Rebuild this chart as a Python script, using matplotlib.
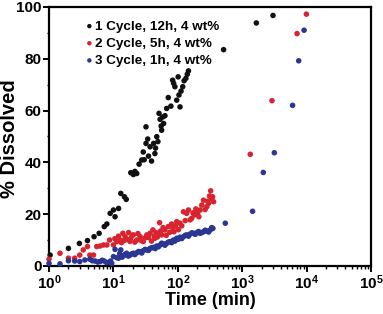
import numpy as np
import matplotlib
matplotlib.use("Agg")
import matplotlib.pyplot as plt
from matplotlib.ticker import FixedLocator, LogLocator, MultipleLocator, NullFormatter

plt.rcParams['font.family'] = ['Liberation Sans', 'DejaVu Sans']
plt.rcParams['font.weight'] = 'bold'
plt.rcParams['mathtext.fontset'] = 'custom'
plt.rcParams['mathtext.bf'] = 'Liberation Sans:bold'
plt.rcParams['mathtext.rm'] = 'Liberation Sans:bold'

# 1 cycle, 12h
t1 = [1.04, 2.0, 2.96, 3.95, 5.0, 6.0, 7.2, 7.9, 8.9, 10, 10.6, 12, 13, 14.8, 15.8,
      18.6, 20.4, 21.5, 23, 25, 27.5, 29, 30, 32, 32, 34, 35, 37, 39, 42, 44, 45, 47, 49,
      51, 53, 55, 56, 58, 60, 63, 67, 71, 78, 83, 86, 90, 96, 101, 104, 108, 112, 119,
      125, 133, 140, 146, 513, 1652, 2998]
y1 = [4.2, 6.8, 8.7, 9.8, 11.3, 12.6, 15.2, 16.2, 20.3, 21.6, 19.0, 22.2, 28, 26.7, 25.7,
      36, 35.3, 36.5, 35.7, 39.3, 40.9, 44, 41, 47.3, 53.7, 49, 42.4, 46, 40.5, 47.3, 43.4, 45.5,
      49.9, 48, 58.9, 56.6, 54, 52.4, 57.5, 55, 58, 60.8, 65, 61.7, 71.7, 70.5, 69.2, 64, 73,
      66, 61.4, 67.5, 69.2, 71.5, 72.4, 74, 75.3, 83.5, 93.8, 96.7]

# 2 cycle, 5h
t2 = [1, 1.48, 2, 2.5, 3.0, 3.4, 3.95, 4.3, 4.9, 5.5, 6.2, 7.0, 7.9, 8.7, 10, 10.5, 11.3,
      12, 12.7, 13.3, 14, 14.6, 15.2, 16, 17.2, 18, 18.6, 19.5, 20.4, 21.5, 23, 24, 26, 27,
      29, 31, 33, 35, 37, 39, 41, 43, 44, 46, 48, 50, 52, 54, 56, 59, 63, 66, 71, 75, 80,
      84, 87, 92, 96, 102, 108, 115, 122, 130, 137, 146, 155, 164, 172, 181, 190, 202,
      212, 222, 235, 250, 265, 282, 290, 300, 310, 323, 335, 346, 358,
      1331, 2891, 7080, 9880]
y2 = [2.6, 4.9, 3, 3, 4.2, 6.2, 7.5, 4.2, 4.2, 7.5, 7.7, 8.1, 8.1, 10, 8.1, 10.5, 9.4,
      11.5, 10, 9, 12.6, 9.8, 11.3, 10.2, 12.9, 9.5, 10.7, 11.8, 12, 9.2, 10, 12.5, 11.3, 9.8,
      9.4, 10.8, 12, 11, 12.6, 9.6, 13.9, 11.5, 10.7, 12.8, 11.2, 12.6, 16.7, 13.5, 12, 14.8,
      13.9, 11.8, 15.2, 13, 16.2, 14.5, 13.2, 15.5, 17.1, 14, 16.5, 15.5, 20.9, 17.5, 20.3, 21.6,
      17.8, 18.4, 20.5, 19.7, 22, 20.3, 19, 21.6, 23.5, 25.4, 21.8, 22.9, 25, 24.2, 27, 29, 26,
      26.7, 24.8, 43.1, 63.8, 89.7, 97.2]

# 3 cycle, 1h
t3 = [1, 1.48, 2, 2.5, 3, 3.6, 4.3, 4.7, 5.2, 5.7, 6.2, 6.7, 7.2, 7.8, 8.4, 9.0, 9.4,
      10, 10.6, 11.3, 12, 12.5, 13, 13.6, 14.3, 15, 16, 17, 18, 19, 20.4, 21.5, 23, 24.5,
      26, 27.5, 29, 31, 33, 35, 37, 39.5, 42, 44.5, 47, 50, 53, 56, 60, 63, 67, 71, 76, 80,
      85, 90, 96, 102, 108, 115, 122, 130, 137, 146, 155, 165, 175, 186, 197, 210, 222,
      236, 250, 265, 282, 300, 318, 335, 350, 545, 1445, 2120, 3142, 6040, 7510, 9100]
y3 = [1, 0.8, 2, 1.9, 1.7, 2.3, 2.6, 2.0, 1.9, 1.5, 1.7, 2.2, 1.9, 1.3, 1.4, 1.9, 1.0,
      3.6, 6.4, 3.2, 3.0, 4.8, 6.2, 3.4, 3.9, 4.4, 4.9, 3.8, 4.2, 4.6, 4.9, 4.4, 5.1, 5.6,
      5.5, 5.0, 5.9, 6.4, 6.2, 6.0, 6.8, 7.0, 7.2, 6.7, 7.7, 7.4, 8.1, 8.8, 8.5, 8.0, 8.7,
      9.2, 9.4, 9.0, 10, 9.6, 10.7, 10.3, 11.1, 10.6, 11.3, 11.8, 12, 11.5, 12.3, 12.8,
      12.6, 12.2, 12.9, 13.3, 12.6, 12.9, 13.2, 13.8, 13.5, 13.1, 13.9, 14.8, 14.5,
      16.5, 21.1, 36.1, 43.7, 62, 79.2, 91]

labels = ['1 Cycle, 12h, 4 wt%', '2 Cycle, 5h, 4 wt%', '3 Cycle, 1h, 4 wt%']
colors = ['#111111', '#d9232e', '#2b3592']
xticks = [1, 10, 100, 1000, 10000, 100000]
xticklabels = [r'$\mathbf{10^{%d}}$' % i for i in range(6)]

fig = plt.figure(figsize=(3.83, 3.14), dpi=100)
ax = fig.add_axes([0.128, 0.153, 0.841, 0.825])

for t, y, c, lab in zip([t1, t2, t3], [y1, y2, y3], colors, labels):
    ax.scatter(t, y, s=16, color=c, edgecolors='none', label=lab, zorder=3, clip_on=False)

ax.set_xscale('log')
ax.set_xlim(1, 1e5)
ax.set_ylim(0, 100)
ax.xaxis.set_major_locator(FixedLocator(xticks))
ax.set_xticklabels(xticklabels)
ax.xaxis.set_minor_locator(LogLocator(base=10, subs=np.arange(2, 10), numticks=20))
ax.xaxis.set_minor_formatter(NullFormatter())
ax.yaxis.set_major_locator(MultipleLocator(20))
ax.yaxis.set_minor_locator(MultipleLocator(10))

for s in ax.spines.values():
    s.set_linewidth(1.6)
ax.tick_params(which='major', direction='out', length=4, width=1.4, pad=1.5)
ax.tick_params(axis='y', which='major', labelsize=11)
ax.tick_params(axis='x', which='major', labelsize=11)
ax.tick_params(which='minor', direction='out', length=2, width=1.0)
ax.tick_params(axis='y', which='minor', length=1.5)

ax.set_xlabel('Time (min)', fontsize=13, fontweight='bold', labelpad=0)
ax.set_ylabel('% Dissolved', fontsize=14.5, fontweight='bold')
ax.yaxis.set_label_coords(-0.093, 0.49)

leg = ax.legend(loc='upper left', bbox_to_anchor=(0.075, 0.985), frameon=False, fontsize=9.7,
                handletextpad=-0.1, labelspacing=0.35, borderaxespad=0.3, handlelength=1.0,
                markerscale=0.8)

fig.savefig('out.png', dpi=100)
